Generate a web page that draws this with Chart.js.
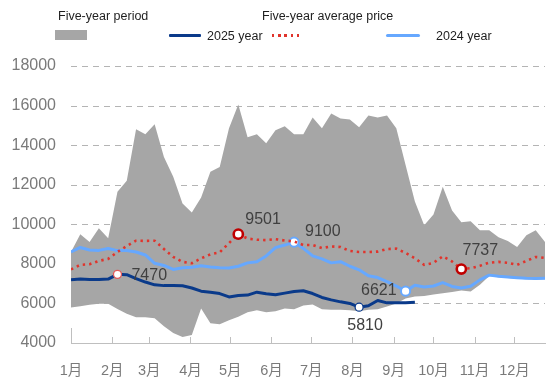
<!DOCTYPE html>
<html>
<head>
<meta charset="utf-8">
<script src="https://cdn.jsdelivr.net/npm/chart.js@4.4.1/dist/chart.umd.min.js"></script>
<style>
  html, body { margin: 0; padding: 0; background: #ffffff; }
  #wrap { position: relative; width: 559px; height: 391px; overflow: hidden; }
  #c { position: absolute; left: 0; top: 0; }
  .lg { position: absolute; font-family: 'Liberation Sans', Arial, sans-serif; font-size: 12.5px; color: #1e1e1e; height: 14px; line-height: 14px; white-space: nowrap; }
  .sw { position: absolute; }
</style>
</head>
<body>
<div id="wrap">
  <canvas id="c" width="559" height="391"></canvas>
  <div id="legend"></div>
</div>
<script>
// ---- data ----
const monthLabels = ['1月','2月','3月','4月','5月','6月','7月','8月','9月','10月','11月','12月'];
const monthStartDays = [0,31,59,90,120,151,181,212,243,273,304,334];
const weekDays = [0,7,14,21,28,35,42,49,56,63,70,77,84,91,98,105,112,119,126,133,140,147,154,161,168,175,182,189,196,203,210,217,224,231,238,245,252,259,266,273,280,287,294,301,308,315,322,329,336,343,350,357];

const fiveYearHigh = [8600,9500,9100,9800,9300,11650,12200,14800,14550,15050,13400,12400,11050,10600,11350,12650,12900,14850,16050,14400,14550,14100,14750,14950,14550,14550,15400,14850,15600,15350,15300,14900,15500,15400,15500,14850,13000,11150,9950,10500,11900,10700,10100,10150,9700,9700,9350,9150,8850,9450,9700,9100];
const fiveYearLow = [5800,5860,5930,5980,5980,5720,5480,5300,5300,5250,4850,4500,4300,4400,5750,5000,4950,5150,5330,5550,5650,5550,5600,5750,5700,5900,5950,5700,5680,5680,5650,5600,5680,5700,5850,6000,6250,6350,6380,6450,6520,6580,6650,6600,6950,7380,7320,7290,7250,7220,7210,7220];
const fiveYearAvg = [7720,7950,7980,8150,8250,8600,8900,9170,9160,9170,8750,8350,8100,8030,8280,8480,8580,9050,9501,9280,9220,9200,9250,9180,9130,8950,8950,8800,8880,8850,8650,8600,8600,8620,8750,8770,8550,8280,7950,8050,8380,8120,7737,7780,7900,8060,8100,8050,7950,8150,8350,8300];
const year2024 = [8600,8830,8700,8680,8780,8670,8680,8600,8450,8030,7920,7720,7800,7830,7900,7840,7800,7790,7880,8050,8110,8400,8820,8950,9100,8780,8400,8250,8050,8110,7880,7700,7400,7310,7100,6880,6621,6920,6830,6880,7050,6860,6780,6870,7190,7430,7370,7340,7300,7270,7260,7270];
const year2025 = [7200,7230,7210,7210,7230,7470,7450,7250,7080,6940,6900,6900,6890,6780,6620,6570,6500,6330,6400,6420,6570,6490,6440,6520,6600,6640,6500,6300,6180,6080,6000,5810,5880,6150,6030,6030,6040,6060];
const yTicks = [4000,6000,8000,10000,12000,14000,16000,18000];

// highlighted points (week index)
const marks2025 = [5, 31];
const marks2024 = [24, 36];
const marksAvg = [18, 42];

// ---- helpers ----
const pts = arr => arr.map((v, i) => ({ x: weekDays[i], y: v }));

const NAVY = '#0a3a8a';
const LIGHT = '#66a8ff';
const RED = '#e0342c';
const DARKRED = '#c00000';
const BAND = '#a6a6a6';

const datasets = [
  { label: 'Five-year low', data: pts(fiveYearLow), borderWidth: 0, pointRadius: 0, fill: false, order: 10, borderColor: 'rgba(0,0,0,0)' },
  { label: 'Five-year period', data: pts(fiveYearHigh), borderWidth: 0, pointRadius: 0, fill: '-1', backgroundColor: BAND, order: 9, borderColor: 'rgba(0,0,0,0)' },
  { label: '2024 year', data: pts(year2024), borderColor: LIGHT, borderWidth: 3, order: 3,
    pointRadius: c => marks2024.includes(c.dataIndex) ? 4.6 : 0,
    pointBackgroundColor: '#ffffff', pointBorderColor: LIGHT, pointBorderWidth: 2, pointHoverRadius: 0 },
  { label: 'Five-year average price', data: pts(fiveYearAvg), borderColor: RED, borderWidth: 2.6, borderDash: [2.4, 4], order: 2,
    pointRadius: c => marksAvg.includes(c.dataIndex) ? 4.6 : 0,
    pointBackgroundColor: '#ffffff', pointBorderColor: DARKRED, pointBorderWidth: 2.6, pointHoverRadius: 0 },
  { label: '2025 year', data: pts(year2025), borderColor: NAVY, borderWidth: 3, order: 1,
    pointRadius: c => marks2025.includes(c.dataIndex) ? 4 : 0,
    pointBackgroundColor: '#ffffff',
    pointBorderColor: c => c.dataIndex === marks2025[0] ? '#e25a5a' : NAVY,
    pointBorderWidth: 1.3, pointHoverRadius: 0 }
];

// annotation labels: dataset index, point index, text, offsets
const notes = [
  { ds: 4, i: 5,  text: '7470', dx: 14,  dy: 1,   align: 'left' },
  { ds: 3, i: 18, text: '9501', dx: 7,   dy: -15, align: 'left' },
  { ds: 2, i: 24, text: '9100', dx: 11,  dy: -10, align: 'left' },
  { ds: 4, i: 31, text: '5810', dx: 6,   dy: 18,  align: 'center' },
  { ds: 2, i: 36, text: '6621', dx: -9,  dy: -1,  align: 'right' },
  { ds: 3, i: 42, text: '7737', dx: 19,  dy: -18, align: 'center' }
];

// dashed horizontal grid lines at the y scale's ticks (drawn under the data)
const dashedGrid = {
  id: 'dashedGrid',
  beforeDatasetsDraw(chart) {
    const ctx = chart.ctx;
    const ys = chart.scales.y;
    const { left, right, bottom } = chart.chartArea;
    ctx.save();
    ctx.strokeStyle = '#b4b4b4';
    ctx.lineWidth = 1;
    ctx.lineCap = 'butt';
    ctx.setLineDash([6, 5]);
    ys.ticks.forEach(t => {
      const py = Math.round(ys.getPixelForValue(t.value)) + 0.5;
      if (Math.abs(py - bottom) < 2) return;
      ctx.beginPath();
      ctx.moveTo(left, py);
      ctx.lineTo(right, py);
      ctx.stroke();
    });
    ctx.restore();
  }
};

const decoPlugin = {
  id: 'deco',
  afterDatasetsDraw(chart) {
    const ctx = chart.ctx;
    const xs = chart.scales.x;
    const bottom = chart.chartArea.bottom;
    ctx.save();
    ctx.strokeStyle = '#bfbfbf';
    ctx.lineWidth = 1;
    monthStartDays.forEach((d, k) => {
      const px = Math.round(xs.getPixelForValue(d)) + 0.5;
      ctx.beginPath();
      ctx.moveTo(px, bottom);
      ctx.lineTo(px, bottom - (k === 0 ? 15 : 6));
      ctx.stroke();
    });
    ctx.fillStyle = '#404040';
    ctx.font = '16px "Liberation Sans", Arial, sans-serif';
    ctx.textBaseline = 'middle';
    notes.forEach(n => {
      const el = chart.getDatasetMeta(n.ds).data[n.i];
      if (!el) return;
      ctx.textAlign = n.align;
      ctx.fillText(n.text, el.x + n.dx, el.y + n.dy);
    });
    ctx.restore();
  }
};

const chart = new Chart(document.getElementById('c'), {
  type: 'line',
  data: { datasets },
  options: {
    responsive: false,
    animation: false,
    events: [],
    elements: { line: { tension: 0, borderJoinStyle: 'round' } },
    layout: { padding: { top: 66, right: 14, left: 0, bottom: 0 } },
    plugins: { legend: { display: false }, tooltip: { enabled: false } },
    scales: {
      x: {
        type: 'linear',
        min: weekDays[0],
        max: weekDays[weekDays.length - 1],
        afterBuildTicks: s => { s.ticks = monthStartDays.map(v => ({ value: v })); },
        afterFit: s => { s.height = 48; },
        grid: { display: false, drawTicks: false },
        border: { display: true, color: '#bfbfbf', width: 1 },
        ticks: {
          autoSkip: false, maxRotation: 0, padding: 19,
          color: '#7a7a7a',
          font: { size: 14.5, family: '"Liberation Sans", "Noto Sans CJK SC", Arial, sans-serif' },
          callback: (v, idx) => monthLabels[idx]
        }
      },
      y: {
        min: yTicks[0],
        max: yTicks[yTicks.length - 1],
        afterBuildTicks: s => { s.ticks = yTicks.map(v => ({ value: v })); },
        afterFit: s => { s.width = 71; },
        grid: { display: false, drawTicks: false },
        border: { display: false },
        ticks: {
          padding: 15, color: '#7a7a7a',
          font: { size: 16, family: '"Liberation Sans", Arial, sans-serif' },
          callback: v => String(v)
        }
      }
    }
  },
  plugins: [dashedGrid, decoPlugin]
});

// ---- custom legend built from dataset labels ----
(function buildLegend() {
  const L = document.getElementById('legend');
  const byLabel = lbl => chart.data.datasets.find(d => d.label === lbl);
  const items = [
    { ds: byLabel('Five-year period'), text: { left: 58, cy: 15.5 }, sw: { left: 55, top: 30, w: 32, h: 10, css: 'background:' + BAND } },
    { ds: byLabel('2025 year'), text: { left: 207, cy: 35.5 }, sw: { left: 169, top: 34, w: 32, h: 3, css: 'background:' + NAVY + ';border-radius:1px' } },
    { ds: byLabel('Five-year average price'), text: { left: 262, cy: 15.5 }, sw: { left: 272, top: 34, w: 31, h: 2.6, css: 'background:repeating-linear-gradient(90deg,' + RED + ' 0 2.4px, transparent 2.4px 6.2px)' } },
    { ds: byLabel('2024 year'), text: { left: 436, cy: 35.5 }, sw: { left: 386, top: 34, w: 34, h: 3, css: 'background:' + LIGHT + ';border-radius:1.5px' } }
  ];
  items.forEach(it => {
    const t = document.createElement('div');
    t.className = 'lg';
    t.textContent = it.ds.label;
    t.style.left = it.text.left + 'px';
    t.style.top = (it.text.cy - 7) + 'px';
    L.appendChild(t);
    const s = document.createElement('div');
    s.className = 'sw';
    s.style.cssText = 'left:' + it.sw.left + 'px;top:' + it.sw.top + 'px;width:' + it.sw.w + 'px;height:' + it.sw.h + 'px;' + it.sw.css;
    L.appendChild(s);
  });
})();
</script>
</body>
</html>
